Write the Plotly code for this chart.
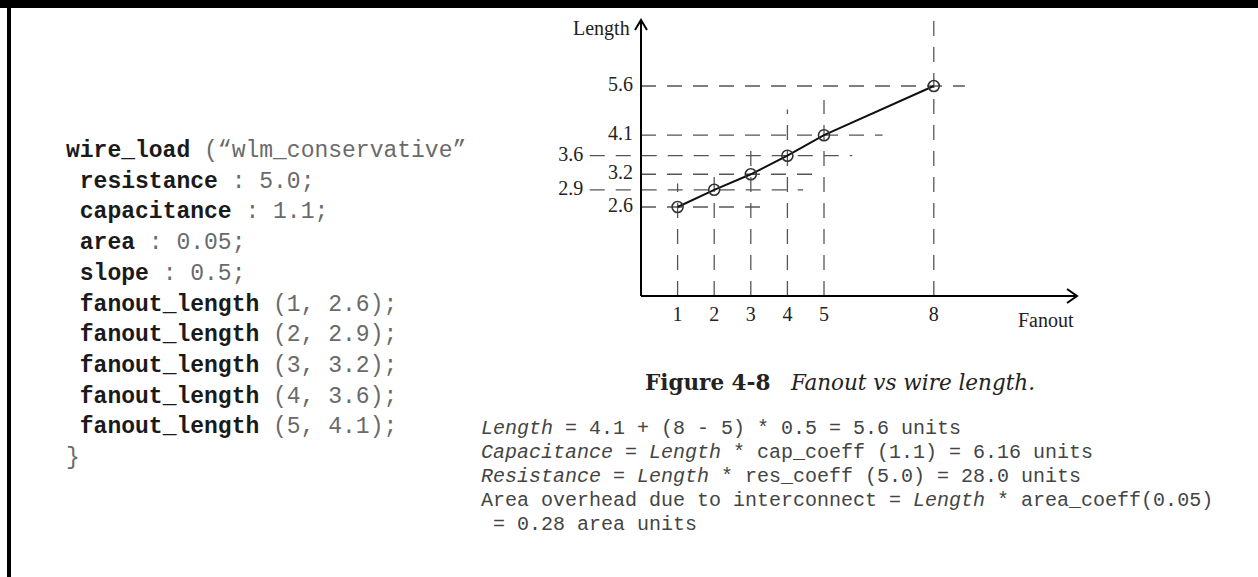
import plotly.graph_objects as go

# fanout vs wire length table (wire_load "wlm_conservative")
fanout = [1, 2, 3, 4, 5, 8]
length = [2.6, 2.9, 3.2, 3.6, 4.1, 5.6]
length_labels = ["2.6", "2.9", "3.2", "3.6", "4.1", "5.6"]
param_names = ["resistance", "capacitance", "area", "slope"]
param_values = ["5.0", "1.1", "0.05", "0.5"]
formula_lines = [
    "<i>Length</i> = 4.1 + (8 - 5) * 0.5 = 5.6 units",
    "<i>Capacitance</i> = <i>Length</i> * cap_coeff (1.1) = 6.16 units",
    "<i>Resistance</i> = <i>Length</i> * res_coeff (5.0) = 28.0 units",
    "Area overhead due to interconnect = <i>Length</i> * area_coeff(0.05)",
    "\u00a0= 0.28 area units",
]

W, H = 1258, 577
def px(x):
    return x / W
def py(y):
    return 1 - y / H

# axis geometry (pixels)
x0_px, unit_px = 641, 36.6
xr = [-2.5, 12.0]
yr = [0.1699, 0.9300]  # log10 range
ybot_px, ytop_px = 296, 20

# guide line styling
h_start = [0, -1.4, 0, -1.4, 0, 0]
h_over = [2.52, 2.43, 1.75, 1.77, 1.6, 0.85]
v_over = [1.16, 1.16, 1.24, 1.34, 1.25, 1.55]
lbl_x = [-0.22, -1.58, -0.22, -1.58, -0.22, -0.22]
ybottom = 10 ** yr[0]

hx, hy, vx, vy = [], [], [], []
for i in range(len(fanout)):
    hx += [h_start[i], fanout[i] + h_over[i], None]
    hy += [length[i], length[i], None]
    vx += [fanout[i], fanout[i], None]
    vy += [ybottom, length[i] * v_over[i], None]

guide = dict(color="#555", width=1.3, dash="15px,11px")
fig = go.Figure()
fig.add_trace(go.Scatter(x=hx, y=hy, mode="lines", line=guide, hoverinfo="skip"))
fig.add_trace(go.Scatter(x=vx, y=vy, mode="lines", line=guide, hoverinfo="skip"))
fig.add_trace(go.Scatter(
    x=fanout, y=length, mode="lines+markers",
    line=dict(color="#111", width=2),
    marker=dict(symbol="circle-open", size=11, color="#333", line=dict(width=1.6)),
))
fig.add_trace(go.Scatter(
    x=lbl_x, y=length, mode="text", text=length_labels,
    textposition="middle left", cliponaxis=False,
    textfont=dict(family="Liberation Serif", size=20, color="#222"),
    hoverinfo="skip",
))

shapes = [
    # page frame
    dict(type="rect", xref="paper", yref="paper", x0=0, x1=1, y0=py(8), y1=1,
         fillcolor="black", line_width=0),
    dict(type="rect", xref="paper", yref="paper", x0=px(7), x1=px(11), y0=0, y1=1,
         fillcolor="black", line_width=0),
    # axes
    dict(type="line", xref="x", yref="y domain", x0=0, x1=11.9, y0=0, y1=0,
         line=dict(color="black", width=2)),
    dict(type="line", xref="x", yref="y domain", x0=0, x1=0, y0=0, y1=1,
         line=dict(color="black", width=2)),
    # arrow heads
    dict(type="path", xref="paper", yref="paper",
         path=f"M {px(1067)},{py(289)} L {px(1077)},{py(296)} L {px(1067)},{py(303)}",
         line=dict(color="black", width=2)),
    dict(type="path", xref="paper", yref="paper",
         path=f"M {px(635)},{py(30)} L {px(641)},{py(20)} L {px(647)},{py(30)}",
         line=dict(color="black", width=2)),
]

ann = []
serif = dict(family="Liberation Serif", size=20, color="#222")
ann.append(dict(x=px(632), y=py(28), xref="paper", yref="paper", text="Length",
                xanchor="right", yanchor="middle", showarrow=False, font=serif))
ann.append(dict(x=px(1046), y=py(320), xref="paper", yref="paper", text="Fanout",
                xanchor="center", yanchor="middle", showarrow=False, font=serif))
ann.append(dict(x=px(643), y=py(383), xref="paper", yref="paper",
                text="<b>Figure 4-8</b>\u00a0\u00a0\u00a0<i>Fanout vs wire length.</i>",
                xanchor="left", yanchor="middle", showarrow=False,
                font=dict(family="DejaVu Serif", size=21.5, color="#222")))

# code listing
mono = "Liberation Mono"
kw = "#1a1a1a"
gr = "#6a6a6a"
code = [("wire_load", " (\u201cwlm_conservative\u201d", "")]
for n, v in zip(param_names, param_values):
    code.append((n, " : " + v + ";", "\u00a0"))
for f, l in zip(fanout[:5], length_labels[:5]):
    code.append(("fanout_length", f" ({f}, {l});", "\u00a0"))
code.append(("", "}", ""))
for i, (k, rest, ind) in enumerate(code):
    txt = ind
    if k:
        txt += f"<b><span style='color:{kw}'>{k}</span></b>"
    txt += f"<span style='color:{gr}'>{rest.replace(' ', chr(160))}</span>"
    ann.append(dict(x=px(64), y=py(151 + i * 30.7), xref="paper", yref="paper",
                    text=txt, xanchor="left", yanchor="middle", showarrow=False,
                    font=dict(family=mono, size=23, color=gr)))

for i, t in enumerate(formula_lines):
    ann.append(dict(x=px(479), y=py(428 + i * 24), xref="paper", yref="paper",
                    text=t.replace(" ", "\u00a0"), xanchor="left", yanchor="middle",
                    showarrow=False, font=dict(family=mono, size=20, color="#444")))

fig.update_layout(
    width=W, height=H, margin=dict(l=0, r=0, t=0, b=0),
    paper_bgcolor="white", plot_bgcolor="white", showlegend=False,
    shapes=shapes, annotations=ann,
    xaxis=dict(range=xr, domain=[px(x0_px + xr[0] * unit_px), px(x0_px + xr[1] * unit_px)],
               showgrid=False, zeroline=False, showline=False,
               tickmode="array", tickvals=fanout, ticktext=[str(f) for f in fanout],
               ticks="", tickfont=serif, ticklabelstandoff=4),
    yaxis=dict(type="log", range=yr, domain=[py(ybot_px), py(ytop_px)],
               showgrid=False, zeroline=False, showline=False, showticklabels=False),
)

fig.write_html("out.html", config={"displayModeBar": False},
               post_script="document.body.style.margin='0px';")
